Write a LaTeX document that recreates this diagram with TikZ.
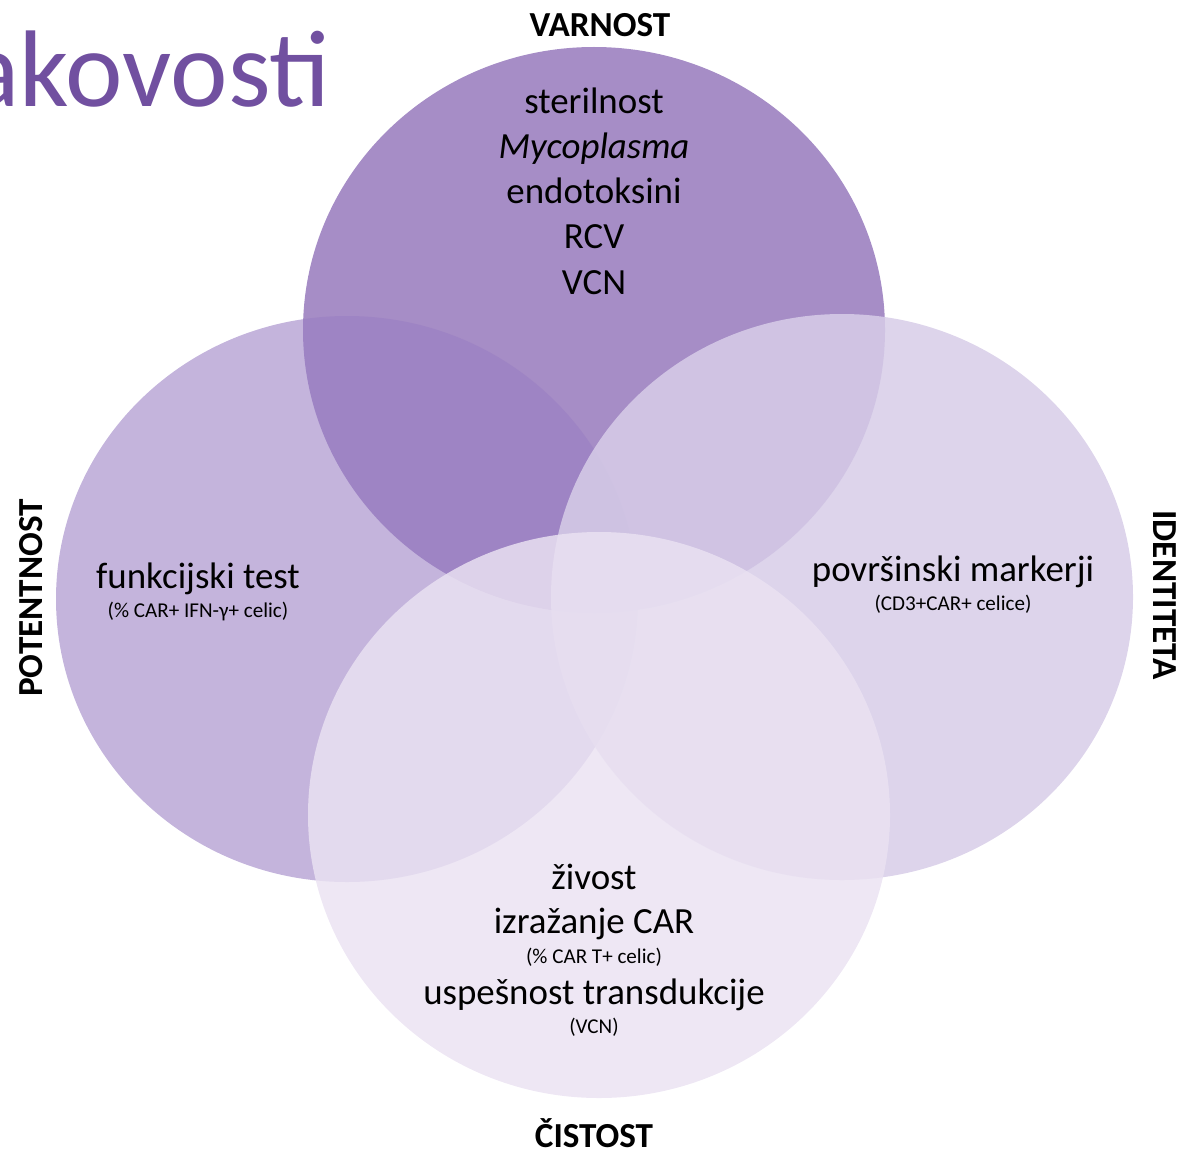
\documentclass[tikz,border=0pt]{standalone}
\usepackage{fontspec}
\setmainfont{Carlito}
\usepackage{xcolor}

\definecolor{naslov}{RGB}{113,80,160}
\definecolor{varnost}{RGB}{166,141,198}
\definecolor{potentnost}{RGB}{153,126,195}
\definecolor{identiteta}{RGB}{215,205,232}
\definecolor{cistost}{RGB}{234,226,242}

\tikzset{
  besedilo/.style={anchor=base, inner sep=0pt, font=\fontsize{10.5}{12}\selectfont},
  drobno/.style={anchor=base, inner sep=0pt, font=\fontsize{6}{7}\selectfont},
  oznaka/.style={anchor=base, inner sep=0pt, font=\bfseries\fontsize{10}{12}\selectfont},
}

\begin{document}
\begin{tikzpicture}[x=0.1mm, y=-0.1mm]
            \useasboundingbox (0,0) rectangle (1180,1151);
            \begin{scope}
                \clip (0,0) rectangle (1180,1151);
                \node[anchor=base east, inner sep=0pt, text=naslov, font=\fontsize{31}{37}\selectfont] (naslov) at (331,107) {kakovosti};
            \end{scope}

            % krogi
            \fill[varnost] (594,330) ellipse (291 and 283); % varnost
            \fill[potentnost, fill opacity=0.58] (347,599) ellipse (291 and 283); % potentnost
            \fill[identiteta, fill opacity=0.86] (842,597) ellipse (291 and 283); % identiteta
            \fill[cistost, fill opacity=0.83] (599,815) ellipse (291 and 283); % cistost

            % varnost
            \node[besedilo] (steril) at (594,114) {sterilnost};
            \node[besedilo] (myco) at (594,159) {\itshape Mycoplasma};
            \node[besedilo] (endo) at (594,204) {endotoksini};
            \node[besedilo] (rcv) at (594,249) {RCV};
            \node[besedilo] (vcn) at (594,294) {VCN};

            % potentnost
            \node[besedilo] (funk) at (198,588) {funkcijski test};
            \node[drobno] (funkopis) at (198,617) {(\% CAR+ IFN-γ+ celic)};

            % identiteta
            \node[besedilo] (povr) at (953,581) {površinski markerji};
            \node[drobno] (povropis) at (953,610) {(CD3+CAR+ celice)};

            % cistost
            \node[besedilo] (zivost) at (594,889) {živost};
            \node[besedilo] (izraz) at (594,933) {izražanje CAR};
            \node[drobno] (izrazopis) at (594,963) {(\% CAR T+ celic)};
            \node[besedilo] (uspes) at (594,1004) {uspešnost transdukcije};
            \node[drobno] (uspesopis) at (594,1033) {(VCN)};

            % oznake
            \node[oznaka] (lvarnost) at (600,37) {VARNOST};
            \node[oznaka] (lcistost) at (594,1147) {ČISTOST};
            \node[oznaka, rotate=90] (lpotent) at (43,598) {POTENTNOST};
            \node[oznaka, rotate=-90] (lident) at (1153,595) {IDENTITETA};
        \end{tikzpicture}
\end{document}
